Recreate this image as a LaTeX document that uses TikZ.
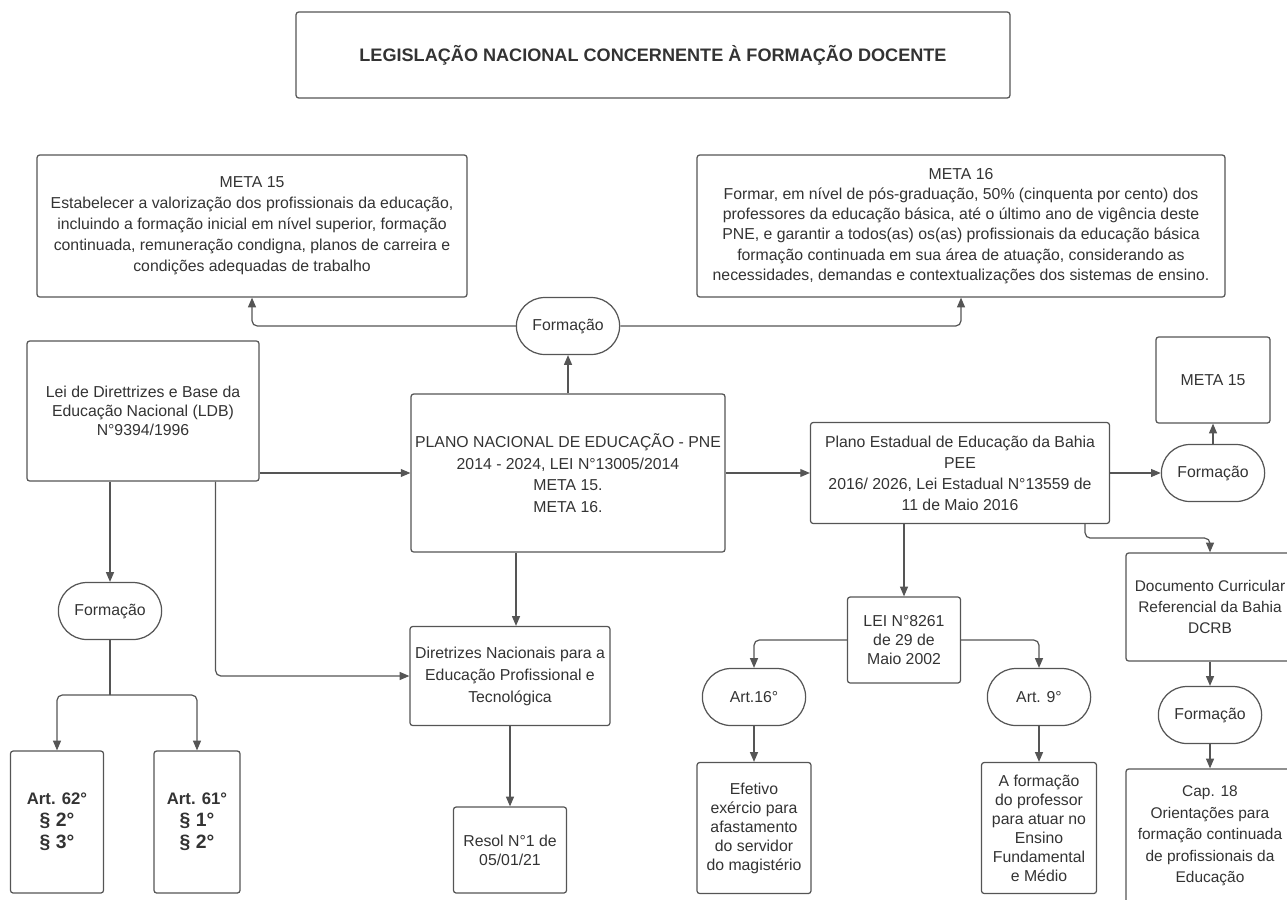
\documentclass[tikz,border=0pt]{standalone}
\usepackage{fontspec}
\setmainfont{Liberation Sans}
\usetikzlibrary{arrows.meta,shapes.misc}
\definecolor{linha}{HTML}{555555}
\definecolor{texto}{HTML}{333333}

\begin{document}
\begin{tikzpicture}[x=0.02cm, y=-0.02cm, line width=0.7pt,
	font=\fontsize{9}{11.9}\selectfont,
	caixa/.style={draw=linha, text=texto, rounded corners=1.5pt, align=center, inner sep=1pt},
	pilula/.style={draw=linha, text=texto, rounded rectangle, minimum width=2.3cm, minimum height=1.14cm},
	linha/.style={draw=linha, rounded corners=3pt},
	seta/.style={linha, -{Triangle[length=5.5pt,width=4.5pt]}},
	artigo/.style={caixa, font=\bfseries\fontsize{11}{12.5}\selectfont, minimum height=2.84cm}]
\useasboundingbox (0,0) rectangle (1287,899);

\node[caixa, minimum width=14.28cm, minimum height=1.72cm, font=\bfseries\fontsize{10.3}{12}\selectfont] (titulo) at (653,55) {LEGISLAÇÃO NACIONAL CONCERNENTE À FORMAÇÃO DOCENTE};

\node[caixa, minimum width=8.6cm, minimum height=2.84cm] (meta15) at (252,226)
	{META 15\\Estabelecer a valorização dos profissionais da educação,\\incluindo a formação inicial em nível superior, formação\\continuada, remuneração condigna, planos de carreira e\\condições adequadas de trabalho};
\node[caixa, minimum width=10.56cm, minimum height=2.84cm, font=\fontsize{9}{11.5}\selectfont] (meta16) at (961,226)
	{META 16\\Formar, em nível de pós-graduação, 50\% (cinquenta por cento) dos\\professores da educação básica, até o último ano de vigência deste\\PNE, e garantir a todos(as) os(as) profissionais da educação básica\\formação continuada em sua área de atuação, considerando as\\necessidades, demandas e contextualizações dos sistemas de ensino.};
\node[pilula] (form1) at (568,326) {Formação};

\node[caixa, minimum width=4.64cm, minimum height=2.8cm, font=\fontsize{9}{10.8}\selectfont] (ldb) at (143,411)
	{Lei de Direttrizes e Base da\\Educação Nacional (LDB)\\N°9394/1996};
\node[caixa, minimum width=6.28cm, minimum height=3.16cm, font=\fontsize{9}{12.2}\selectfont] (pne) at (568,473)
	{PLANO NACIONAL DE EDUCAÇÃO - PNE\\2014 - 2024, LEI N°13005/2014\\META 15.\\META 16.};
\node[caixa, minimum width=5.98cm, minimum height=2.02cm] (pee) at (960,473)
	{Plano Estadual de Educação da Bahia\\PEE\\2016/ 2026, Lei Estadual N°13559 de\\11 de Maio 2016};
\node[pilula] (form3) at (1213,473) {Formação};
\node[caixa, minimum width=2.28cm, minimum height=1.72cm] (meta15b) at (1213,380) {META 15};

\node[pilula] (form2) at (110,611) {Formação};
\coordinate (divide) at (110,695);
\node[artigo, minimum width=1.86cm] (art62) at (57,822)
	{{\fontsize{9.5}{12}\selectfont Art. 62°}\\§ 2°\\§ 3°};
\node[artigo, minimum width=1.72cm] (art61) at (197,822)
	{{\fontsize{9.5}{12}\selectfont Art. 61°}\\§ 1°\\§ 2°};

\node[caixa, minimum width=4cm, minimum height=1.98cm, font=\fontsize{9}{12.5}\selectfont] (dir) at (510,676)
	{Diretrizes Nacionais para a\\Educação Profissional e\\Tecnológica};
\node[caixa, minimum width=2.26cm, minimum height=1.72cm, font=\fontsize{9}{10.8}\selectfont] (resol) at (510,850)
	{Resol N°1 de\\05/01/21};

\node[caixa, minimum width=2.26cm, minimum height=1.72cm, font=\fontsize{9}{10.8}\selectfont] (lei) at (904,640)
	{LEI N°8261\\de 29 de\\Maio 2002};
\node[pilula] (art16) at (754,697) {Art.16°};
\node[pilula] (art9) at (1039,697) {Art. 9°};
\node[caixa, minimum width=2.28cm, minimum height=2.62cm, font=\fontsize{9}{10.8}\selectfont] (efetivo) at (754,828)
	{Efetivo\\exércio para\\afastamento\\do servidor\\do magistério};
\node[caixa, minimum width=2.3cm, minimum height=2.62cm, font=\fontsize{9}{10.8}\selectfont] (aform) at (1039,828)
	{A formação\\do professor\\para atuar no\\Ensino\\Fundamental\\e Médio};

\node[caixa, minimum width=3.36cm, minimum height=2.16cm, font=\fontsize{8.8}{11.9}\selectfont] (dcrb) at (1210,607)
	{Documento Curricular\\Referencial da Bahia\\DCRB};
\node[pilula] (form4) at (1210,715) {Formação};
\node[caixa, minimum width=3.36cm, minimum height=2.68cm, font=\fontsize{8.8}{12.3}\selectfont] (cap18) at (1210,836)
	{Cap. 18\\Orientações para\\formação continuada\\de profissionais da\\Educação};

\draw[seta] (pne.north) -- (form1.south);
\draw[seta] (form1.west) -| (meta15.south);
\draw[seta] (form1.east) -| (meta16.south);
\draw[seta] (ldb.east |- pne.west) -- (pne.west);
\draw[seta] (form2.north |- ldb.south) -- (form2.north);
\draw[linha] (form2.south) -- (divide);
\draw[seta] (divide) -| (art62.north);
\draw[seta] (divide) -| (art61.north);
\draw[seta] ([xshift=-0.88cm]ldb.south east) |- (dir.west);
\draw[seta] ([xshift=-1.04cm]pne.south) -- ([xshift=-1.04cm]pne.south |- dir.north);
\draw[seta] (dir.south) -- (resol.north);
\draw[seta] (pne.east) -- (pee.west);
\draw[seta] (pee.east) -- (form3.west);
\draw[seta] (form3.north) -- (meta15b.south);
\draw[seta] (lei.north |- pee.south) -- (lei.north);
\draw[seta] ([xshift=-0.5cm]pee.south east) -- ++(0,14) -| (dcrb.north);
\draw[seta] (lei.west) -| (art16.north);
\draw[seta] (lei.east) -| (art9.north);
\draw[seta] (art16.south) -- (efetivo.north);
\draw[seta] (art9.south) -- (aform.north);
\draw[seta] (dcrb.south) -- (form4.north);
\draw[seta] (form4.south) -- (cap18.north);
\end{tikzpicture}
\end{document}
